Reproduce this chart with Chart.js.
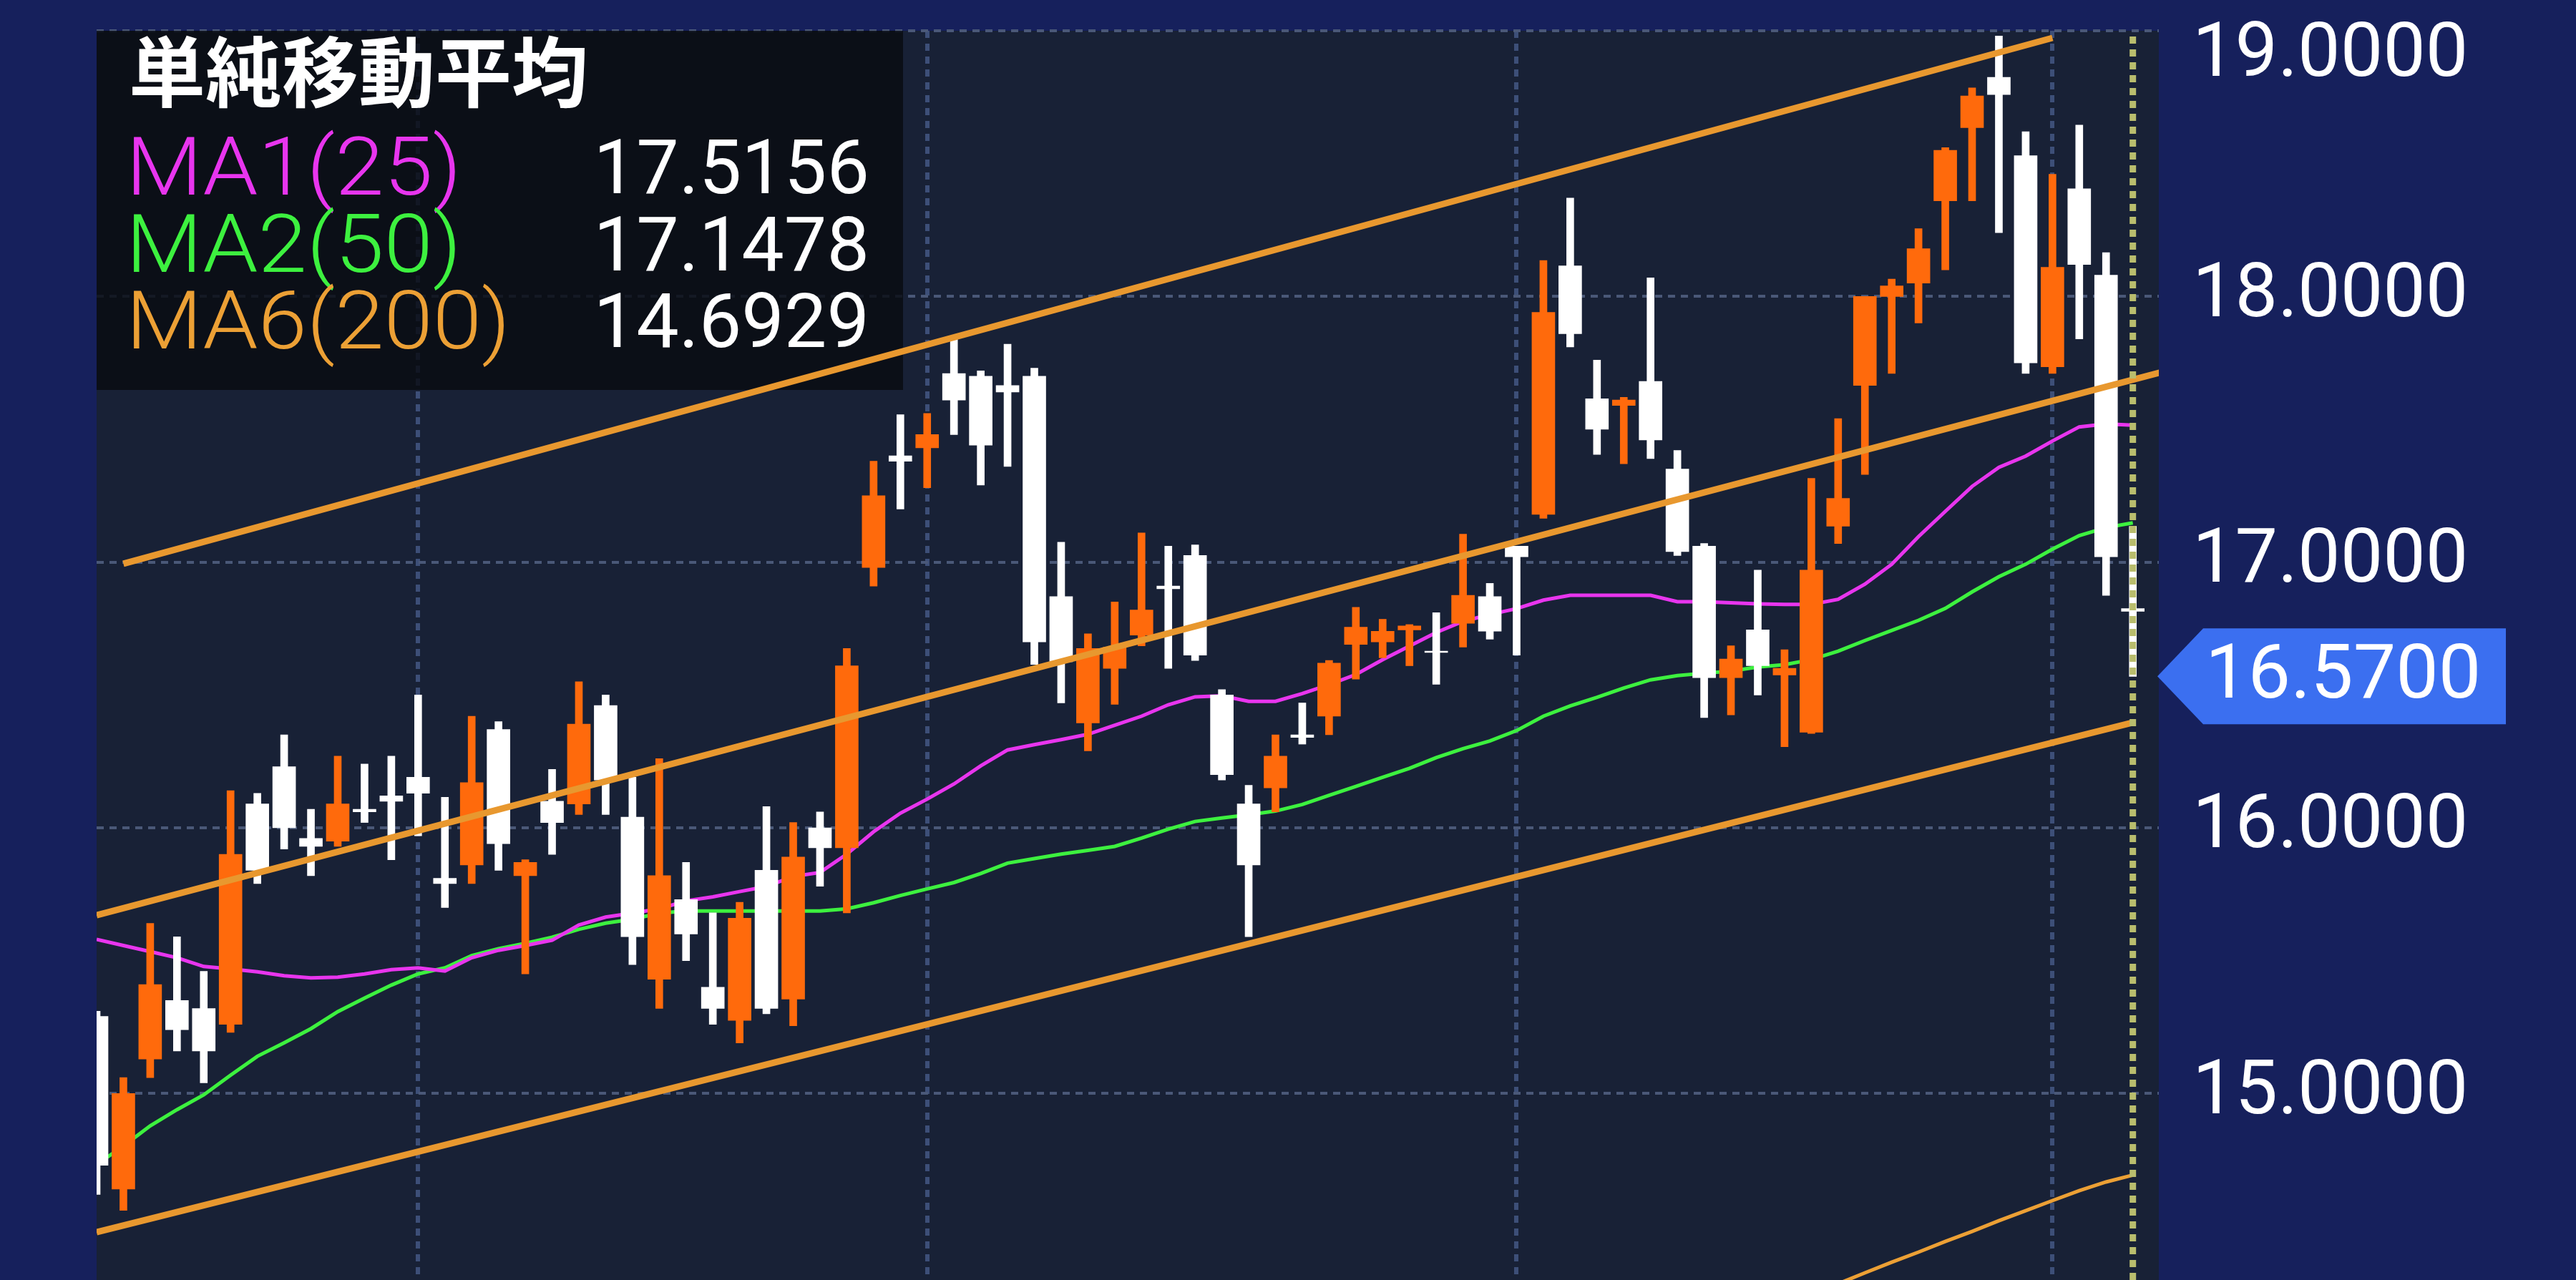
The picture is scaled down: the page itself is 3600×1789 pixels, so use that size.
<!DOCTYPE html>
<html>
<head>
<meta charset="utf-8">
<title>単純移動平均</title>
<script src="https://cdn.jsdelivr.net/npm/chart.js@4/dist/chart.umd.min.js"></script>
<style>
  html, body { margin: 0; padding: 0; background: #16205c; overflow: hidden; }
  #wrap { position: relative; width: 100vw; height: 100vh; }
</style>
</head>
<body>
<div id="wrap"><canvas id="chart"></canvas></div>
<script>
// candles (white = fell, orange = rose)
const opens = [15.29,14.64,15.13,15.35,15.32,15.26,16.09,16.23,15.96,15.95,16.07,16.12,16.19,15.81,15.86,16.37,15.82,16.10,16.09,16.46,16.04,15.43,15.73,15.40,15.275,15.84,15.355,16.00,15.925,16.98,17.40,17.43,17.71,17.70,17.665,17.70,16.87,16.395,16.60,16.725,16.91,17.025,16.50,16.09,16.15,16.35,16.42,16.69,16.70,16.745,16.665,16.77,16.87,17.06,17.18,18.115,17.615,17.59,17.68,17.35,17.06,16.565,16.745,16.575,16.36,17.135,17.665,18.00,18.05,18.36,18.635,18.825,18.53,17.735,18.405,18.08,16.825];
const closes = [14.73,15.00,15.41,15.24,15.16,15.90,15.84,16.00,15.93,16.09,16.06,16.10,16.13,15.79,16.17,15.94,15.87,16.02,16.39,16.18,15.59,15.82,15.60,15.32,15.66,15.32,15.89,15.925,16.61,17.25,17.38,17.48,17.61,17.44,17.64,16.70,16.625,16.675,16.68,16.82,16.90,16.65,16.20,15.86,16.27,16.34,16.62,16.755,16.74,16.76,16.66,16.875,16.74,17.02,17.94,17.86,17.50,17.61,17.46,17.04,16.565,16.635,16.61,16.60,16.97,17.24,18.00,18.04,18.18,18.55,18.755,18.76,17.75,18.11,18.12,17.02,16.815];
const highs = [15.31,15.06,15.64,15.59,15.46,16.14,16.13,16.35,16.07,16.27,16.24,16.27,16.50,16.115,16.42,16.40,15.88,16.22,16.55,16.50,16.19,16.26,15.87,15.68,15.72,16.08,16.02,16.06,16.675,17.38,17.555,17.56,17.84,17.72,17.82,17.73,17.075,16.73,16.85,17.11,17.06,17.065,16.52,16.16,16.35,16.47,16.63,16.83,16.785,16.765,16.81,17.105,16.92,17.06,18.135,18.37,17.76,17.62,18.07,17.42,17.07,16.685,16.97,16.67,17.315,17.54,18.00,18.065,18.255,18.56,18.785,18.98,18.62,18.46,18.645,18.165,17.135];
const lows = [14.62,14.56,15.06,15.16,15.04,15.23,15.79,15.92,15.82,15.93,16.02,15.88,15.97,15.70,15.79,15.84,15.45,15.90,16.05,16.05,15.485,15.32,15.50,15.26,15.19,15.30,15.255,15.78,15.68,16.91,17.20,17.28,17.48,17.29,17.36,16.615,16.47,16.29,16.465,16.685,16.60,16.63,16.18,15.59,16.06,16.315,16.35,16.56,16.64,16.61,16.54,16.68,16.71,16.65,17.165,17.81,17.405,17.37,17.39,17.025,16.415,16.425,16.50,16.305,16.355,17.07,17.33,17.71,17.90,18.10,18.36,18.24,17.71,17.71,17.84,16.875,16.57];

// moving averages, one reading per candle
const ma1 = [15.58,15.557,15.534,15.511,15.478,15.469,15.458,15.443,15.435,15.438,15.45,15.466,15.473,15.461,15.511,15.539,15.557,15.577,15.634,15.664,15.679,15.695,15.725,15.74,15.76,15.779,15.817,15.832,15.901,15.985,16.055,16.108,16.165,16.233,16.293,16.313,16.332,16.352,16.386,16.42,16.463,16.493,16.497,16.476,16.476,16.505,16.539,16.577,16.633,16.684,16.735,16.777,16.803,16.825,16.857,16.875,16.875,16.875,16.875,16.851,16.851,16.847,16.843,16.841,16.841,16.86,16.917,16.992,17.096,17.191,17.285,17.357,17.399,17.456,17.509,17.52,17.5156];
const ma2 = [14.733,14.802,14.878,14.939,14.995,15.069,15.14,15.191,15.244,15.308,15.359,15.408,15.45,15.473,15.519,15.545,15.565,15.588,15.618,15.641,15.656,15.679,15.687,15.687,15.687,15.687,15.687,15.687,15.695,15.718,15.745,15.77,15.794,15.828,15.867,15.884,15.901,15.915,15.93,15.961,15.995,16.024,16.037,16.049,16.063,16.088,16.122,16.156,16.19,16.224,16.264,16.298,16.327,16.366,16.42,16.459,16.491,16.526,16.557,16.573,16.582,16.59,16.605,16.614,16.633,16.665,16.705,16.743,16.781,16.826,16.888,16.945,16.992,17.049,17.1,17.13,17.1478];
// MA6 only enters the window near the right edge
const ma6Index = [65,66,67,68,69,70,71,72,73,74,75,76];
const ma6 = [14.284,14.325,14.365,14.403,14.443,14.481,14.521,14.559,14.597,14.634,14.667,14.6929];

// hand drawn channel lines on the original chart
const channelTopX = [1, 73],    channelTopY = [16.994, 18.973];
const channelMidX = [0, 77],    channelMidY = [15.671, 17.713];
const channelLowX = [0, 76],    channelLowY = [14.478, 16.396];

const yTicks = [19, 18, 17, 16, 15];
const xGridAt = [12, 31, 53, 73];
const lastIndex = 76;
const lastPrice = 16.57;
const yMin = 14.298, yMax = 19, xMax = 76.97;

const legendTitle = "単純移動平均";
const legendNames = ["MA1(25)", "MA2(50)", "MA6(200)"];
const legendValues = ["17.5156", "17.1478", "14.6929"];
const legendColors = ["#e835ee", "#3df13f", "#eca035"];

const ORANGE = "#ff6a0c", WHITE = "#ffffff", CHANNEL = "#e8982f";
const index = opens.map((_, i) => i);
const candleColor = index.map(i => closes[i] > opens[i] ? ORANGE : WHITE);
const points = (xs, ys) => xs.map((x, i) => ({ x: x, y: ys[i] }));

function lineSet(data, color, width, order, dash) {
  return {
    type: "line", data: data, borderColor: color, borderWidth: width,
    pointRadius: 0, tension: 0, order: order, borderCapStyle: "butt", borderDash: dash || []
  };
}

// plot background and the dark box behind the legend
const panels = {
  id: "panels",
  beforeDraw(chart) {
    const a = chart.chartArea, c = chart.ctx;
    c.save();
    c.fillStyle = "#182136";
    c.fillRect(a.left, a.top, a.right - a.left, a.bottom - a.top);
    c.restore();
  },
  beforeDatasetsDraw(chart) {
    const a = chart.chartArea, c = chart.ctx;
    c.save();
    c.fillStyle = "rgba(9,11,17,0.82)";
    c.fillRect(a.left, a.top, 1127, 502);
    c.restore();
  }
};

// legend text and the blue last price tag
const overlays = {
  id: "overlays",
  afterDraw(chart) {
    const c = chart.ctx, y = chart.scales.y.getPixelForValue(lastPrice);
    c.save();
    c.textBaseline = "middle";
    c.fillStyle = "#ffffff";
    c.font = '700 107px "Noto Sans CJK JP"';
    c.textAlign = "left";
    c.fillText(legendTitle, 180, 100);
    const rowY = [243, 351, 458];
    legendNames.forEach((name, i) => {
      // the source text is a little wider than Roboto Light
      c.save();
      c.font = '300 114px Roboto';
      c.fillStyle = legendColors[i];
      c.textAlign = "left";
      c.translate(176, rowY[i]);
      c.scale(1.08, 1);
      c.fillText(name, 0, 0);
      c.restore();
      c.font = '400 106px Roboto';
      c.fillStyle = "#ffffff";
      c.textAlign = "right";
      c.fillText(legendValues[i], 1215, rowY[i]);
    });
    c.fillStyle = "#3b6ff0";
    c.beginPath();
    c.moveTo(3015, y);
    c.lineTo(3079, y - 67);
    c.lineTo(3502, y - 67);
    c.lineTo(3502, y + 67);
    c.lineTo(3079, y + 67);
    c.closePath();
    c.fill();
    c.fillStyle = "#ffffff";
    c.font = '400 106px Roboto';
    c.textAlign = "left";
    c.fillText(lastPrice.toFixed(4), 3082, y + 3);
    c.restore();
  }
};

new Chart(document.getElementById("chart"), {
  type: "bar",
  plugins: [panels, overlays],
  data: {
    datasets: [
      // lower order is painted later
      lineSet(points([lastIndex, lastIndex], [yMin, yMax]), "#b9bd6d", 9, 0, [10, 8]),
      lineSet(points(channelTopX, channelTopY), CHANNEL, 9, 1),
      lineSet(points(channelMidX, channelMidY), CHANNEL, 9, 1),
      lineSet(points(channelLowX, channelLowY), CHANNEL, 9, 1),
      {
        data: index.map(i => ({ x: i, y: [Math.min(opens[i], closes[i]), Math.max(opens[i], closes[i])] })),
        backgroundColor: candleColor, barThickness: 32, grouped: false, order: 2
      },
      {
        data: index.map(i => ({ x: i, y: [lows[i], highs[i]] })),
        backgroundColor: candleColor, barThickness: 10, grouped: false, order: 3
      },
      lineSet(points(index, ma1), legendColors[0], 5, 4),
      lineSet(points(index, ma2), legendColors[1], 5, 5),
      lineSet(points(ma6Index, ma6), legendColors[2], 5, 6)
    ]
  },
  options: {
    responsive: true,
    maintainAspectRatio: false,
    animation: false,
    layout: { padding: { left: 135, top: 43, right: 0, bottom: 0 } },
    plugins: { legend: { display: false }, tooltip: { enabled: false } },
    datasets: { bar: { borderWidth: 0 } },
    scales: {
      x: {
        type: "linear",
        offset: false,
        min: 0,
        max: xMax,
        afterBuildTicks: s => { s.ticks = xGridAt.map(v => ({ value: v })); },
        afterFit: s => { s.height = 0; s.paddingLeft = 0; s.paddingRight = 0; },
        ticks: { display: false },
        grid: { offset: false, color: "#3d4f78", lineWidth: 6, drawTicks: false },
        border: { display: false, dash: [10, 8] }
      },
      y: {
        position: "right",
        min: yMin,
        max: yMax,
        afterBuildTicks: s => { s.ticks = yTicks.map(v => ({ value: v })); },
        afterFit: s => { s.width = 583; s.paddingTop = 0; s.paddingBottom = 0; },
        ticks: {
          color: "#ffffff",
          autoSkip: false,
          padding: 47,
          labelOffset: 1,
          font: { family: "Roboto", size: 106, lineHeight: 0.675 },
          // the top label sits under its gridline so it stays on the page
          callback: v => v === yMax ? ["", v.toFixed(4)] : v.toFixed(4)
        },
        grid: { color: "#4a5878", lineWidth: 4, drawTicks: false },
        border: { display: false, dash: [10, 8] }
      }
    }
  }
});
</script>
</body>
</html>
